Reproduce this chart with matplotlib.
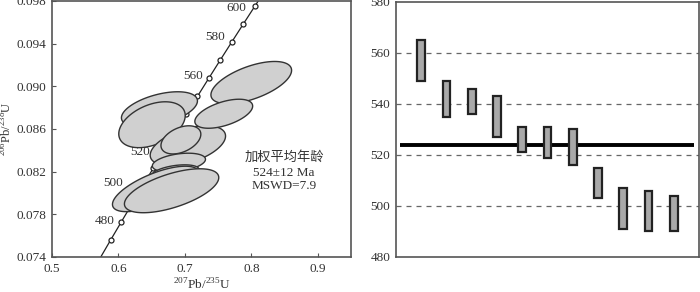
import numpy as np
import matplotlib
matplotlib.use('Agg')
import matplotlib.pyplot as plt
from matplotlib.patches import Polygon

plt.rcParams['font.family'] = ['Liberation Serif', 'DejaVu Serif']
plt.rcParams['mathtext.fontset'] = 'custom'
plt.rcParams['mathtext.rm'] = 'Liberation Serif'

# concordia points (age Ma, 207Pb/235U, 206Pb/238U)
conc_age = [460, 470, 480, 490, 500, 510, 520, 530, 540, 550, 560, 570, 580, 590, 600, 610]
conc_x = [0.5731, 0.5886, 0.6044, 0.6203, 0.6363, 0.6525, 0.6688, 0.6854,
          0.7020, 0.7189, 0.7359, 0.7531, 0.7704, 0.7879, 0.8056, 0.8235]
conc_y = [0.07397, 0.07563, 0.07730, 0.07897, 0.08065, 0.08233, 0.08401, 0.08569,
          0.08738, 0.08906, 0.09075, 0.09245, 0.09414, 0.09584, 0.09754, 0.09925]
mark_age = [470, 480, 490, 500, 510, 520, 530, 540, 550, 560, 570, 580, 590, 600]

# age labels on the concordia
lab_text = ['480', '500', '520', '560', '580', '600']
lab_x = [0.5945, 0.607, 0.648, 0.7274, 0.760, 0.793]
lab_y = [0.07737, 0.0809, 0.0838, 0.0910, 0.0946, 0.0973]

# error ellipses (drawing order back -> front)
ell_x = [0.7999, 0.6617, 0.6505, 0.7045, 0.6940, 0.7585, 0.6910, 0.6853, 0.6562, 0.6800]
ell_sx = [0.0607, 0.0572, 0.0500, 0.0567, 0.0300, 0.0435, 0.0400, 0.0360, 0.0652, 0.0710]
ell_y = [0.09035, 0.08784, 0.08640, 0.08444, 0.08498, 0.08743, 0.08285, 0.0819, 0.08038, 0.08021]
ell_sy = [0.00198, 0.00165, 0.00215, 0.00187, 0.00132, 0.00136, 0.00088, 0.00074, 0.00213, 0.00206]
ell_rho = [0.58, 0.48, 0.4, 0.48, 0.4, 0.53, 0.35, 0.4, 0.68, 0.6]

# single-grain ages (Ma)
age_top = [565, 549, 546, 543, 531, 531, 530, 515, 507, 506, 504]
age_bot = [549, 535, 536, 527, 521, 519, 516, 503, 491, 490, 490]
mean_age = 524
grid_ages = [500, 520, 540, 560]

fig = plt.figure(figsize=(7, 2.92), dpi=100)
ax1 = fig.add_axes([0.0743, 0.1199, 0.4271, 0.8767])
ax2 = fig.add_axes([0.5657, 0.1199, 0.4329, 0.8733])

spine_c = '#555555'
text_c = '#333333'

# ---- concordia diagram
ax1.plot(conc_x, conc_y, color='#222222', lw=0.9, zorder=2)
mx = [conc_x[conc_age.index(a)] for a in mark_age]
my = [conc_y[conc_age.index(a)] for a in mark_age]
ax1.plot(mx, my, 'o', ms=3.6, mfc='white', mec='#222222', mew=0.9, zorder=3)

t = np.linspace(0, 2 * np.pi, 200)
for i in range(len(ell_x)):
    r = ell_rho[i]
    ex = ell_x[i] + ell_sx[i] * np.cos(t)
    ey = ell_y[i] + ell_sy[i] * (r * np.cos(t) + np.sqrt(1 - r * r) * np.sin(t))
    ax1.add_patch(Polygon(np.column_stack([ex, ey]), closed=True, fc='#d0d0d0',
                          ec='#333333', lw=1.0, zorder=4 + i))

for s, x, y in zip(lab_text, lab_x, lab_y):
    ax1.text(x, y, s, ha='right', va='center', fontsize=9.5, color=text_c, zorder=20)

ax1.text(0.849, 0.08335, '加权平均年龄', ha='center', va='center', fontsize=9.5,
         color=text_c, family=['Noto Sans CJK SC', 'DejaVu Sans'])
ax1.text(0.849, 0.08184, '524±12 Ma', ha='center', va='center', fontsize=9.5, color=text_c)
ax1.text(0.849, 0.08068, 'MSWD=7.9', ha='center', va='center', fontsize=9.5, color=text_c)

ax1.set_xlim(0.5, 0.95)
ax1.set_ylim(0.074, 0.098)
ax1.set_xticks([0.5, 0.6, 0.7, 0.8, 0.9])
ax1.set_xticklabels(['0.5', '0.6', '0.7', '0.8', '0.9'])
ax1.set_yticks([0.074, 0.078, 0.082, 0.086, 0.090, 0.094, 0.098])
ax1.set_yticklabels(['0.074', '0.078', '0.082', '0.086', '0.090', '0.094', '0.098'])
ax1.tick_params(direction='in', length=3, width=0.8, color=spine_c, labelsize=9.5,
                labelcolor=text_c, pad=4)
ax1.set_xlabel(r'$^{207}$Pb/$^{235}$U', fontsize=9.5, color=text_c, labelpad=2)
ax1.set_ylabel(r'$^{206}$Pb/$^{238}$U', fontsize=9, color=text_c, labelpad=1.5)
for sp in ax1.spines.values():
    sp.set_color(spine_c)
    sp.set_linewidth(1.2)

# ---- age bar chart
pos = np.arange(1, len(age_top) + 1)
for g in grid_ages:
    ax2.axhline(g, color='#666666', lw=0.9, ls=(0, (4, 4)), zorder=1)
ax2.hlines(mean_age, 0.17, 11.8, color='black', lw=2.8, zorder=2)
ax2.bar(pos, np.array(age_top) - np.array(age_bot), bottom=age_bot, width=0.3,
        color='#a9a9a9', edgecolor='#222222', linewidth=1.6, zorder=3)
ax2.set_xlim(0, 12)
ax2.set_ylim(480, 580)
ax2.set_xticks([])
ax2.set_yticks([480, 500, 520, 540, 560, 580])
ax2.tick_params(axis='y', length=0, labelsize=9.5, labelcolor=text_c, pad=4)
for sp in ax2.spines.values():
    sp.set_color(spine_c)
    sp.set_linewidth(1.2)

fig.savefig('out.png', dpi=100)
